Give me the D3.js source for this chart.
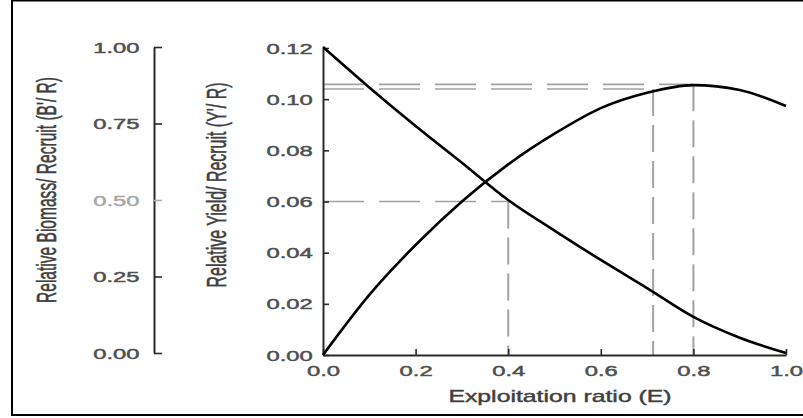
<!DOCTYPE html>
<html><head><meta charset="utf-8">
<script src="https://cdn.jsdelivr.net/npm/d3@7"></script>
<style>
body{margin:0;background:#fff;}
text{font-family:"Liberation Sans",Arial,sans-serif;}
</style></head>
<body><svg id="c" width="803" height="418"></svg>
<script>
// ---- data ----
const exploitation = [0,0.1,0.2,0.3,0.4,0.5,0.6,0.7,0.8,0.9,1.0];
const yieldPerRecruit = [0,0.0235,0.043,0.060,0.0745,0.0865,0.0965,0.1025,0.1055,0.1036,0.0973];
const biomassPerRecruit = [1.0,0.868,0.742,0.622,0.50,0.40,0.304,0.212,0.118,0.05,0.0];
const xTicks = [0,0.2,0.4,0.6,0.8,1.0];
const yieldTicks = [0,0.02,0.04,0.06,0.08,0.10,0.12];
const biomassTicks = [0,0.25,0.5,0.75,1.0];
const refE = [0.4,0.713,0.8];         // E50, E0.1, Emax
const refYield = [0.06,0.104,0.1058]; // levels of the horizontal guides

const svg = d3.select("#c");
const SX = 1.7; // horizontal stretch of the original picture's text

// frame
svg.append("rect").attr("x",12).attr("y",0.5).attr("width",820).attr("height",414.5)
  .attr("fill","none").attr("stroke","#000").attr("stroke-width",2);

const x = d3.scaleLinear().domain([0,1]).range([323,786]);
const yR = d3.scaleLinear().domain([0,0.12]).range([355,48]);
const yL = d3.scaleLinear().domain([0,1]).range([353,47]);

// guides (dashed)
const guide = svg.append("g").attr("stroke","#a3a3a3").attr("fill","none");
refE.forEach((e,i)=>{
  guide.append("line").attr("x1",x(0)).attr("x2",x(e)).attr("y1",yR(refYield[i])).attr("y2",yR(refYield[i]))
    .attr("stroke-width",1.6).attr("stroke-dasharray","41,15");
  guide.append("line").attr("x1",x(e)).attr("x2",x(e)).attr("y1",yR(refYield[i])).attr("y2",yR(0))
    .attr("stroke-width",2).attr("stroke-dasharray","27,9");
});

// axes
function styleAxis(g, color){
  g.select(".domain").attr("stroke","#2a2a2a").attr("stroke-width",2);
  g.selectAll(".tick line").attr("stroke","#2a2a2a").attr("stroke-width",1.6);
  g.selectAll(".tick text").attr("fill",color).attr("stroke",color).attr("stroke-width",0.45).attr("font-size",14);
}
const gx = svg.append("g").attr("transform",`translate(0,${yR(0)})`)
  .call(d3.axisBottom(x).tickValues(xTicks).tickSize(-6).tickSizeOuter(0).tickPadding(11).tickFormat(d3.format(".1f")));
styleAxis(gx,"#505050");
gx.selectAll(".tick text").attr("transform",`scale(${SX},1)`);

const gyR = svg.append("g").attr("transform",`translate(${x(0)},0)`)
  .call(d3.axisLeft(yR).tickValues(yieldTicks).tickSize(-6).tickSizeOuter(0).tickPadding(6).tickFormat(d3.format(".2f")));
styleAxis(gyR,"#505050");
gyR.selectAll(".tick text").attr("transform",`scale(${SX},1)`).attr("dy","0.36em");

const gyL = svg.append("g").attr("transform",`translate(154,0)`)
  .call(d3.axisLeft(yL).tickValues(biomassTicks).tickSize(-8).tickSizeOuter(0).tickPadding(8.5).tickFormat(d3.format(".2f")));
styleAxis(gyL,"#505050");
gyL.selectAll(".tick text").attr("transform",`scale(${SX},1)`).attr("dy","0.36em")
  .attr("fill",d=>d===0.5?"#a8a8a8":"#505050").attr("stroke",d=>d===0.5?"#a8a8a8":"#505050");
gyL.selectAll(".tick line").attr("stroke",d=>d===0.5?"#aaa":"#2a2a2a");

// curves
const line = d3.line().curve(d3.curveMonotoneX);
svg.append("path")
  .attr("d", line.x((d,i)=>x(exploitation[i])).y(d=>yR(d))(yieldPerRecruit))
  .attr("fill","none").attr("stroke","#000").attr("stroke-width",2.6);
svg.append("path")
  .attr("d", line.x((d,i)=>x(exploitation[i])).y(d=>yL(d))(biomassPerRecruit))
  .attr("fill","none").attr("stroke","#000").attr("stroke-width",2.6);

// titles
svg.append("g").attr("transform","translate(560,402)")
  .append("text").attr("text-anchor","middle").attr("font-size",16).attr("fill","#404040")
  .attr("stroke","#404040").attr("stroke-width",0.4)
  .attr("transform","scale(1.55,1)").text("Exploitation ratio (E)");

function vTitle(cx, cy, len, txt){
  svg.append("g").attr("transform",`translate(${cx},${cy}) scale(1.85,1) rotate(-90)`)
    .append("text").attr("text-anchor","middle").attr("font-size",15).attr("fill","#404040")
    .attr("stroke","#404040").attr("stroke-width",0.3)
    .attr("textLength",len).attr("lengthAdjust","spacingAndGlyphs").text(txt);
}
vTitle(56,190,226,"Relative Biomass/ Recruit (B'/ R)");
vTitle(226,185,205,"Relative Yield/ Recruit (Y'/ R)");
</script></body></html>
